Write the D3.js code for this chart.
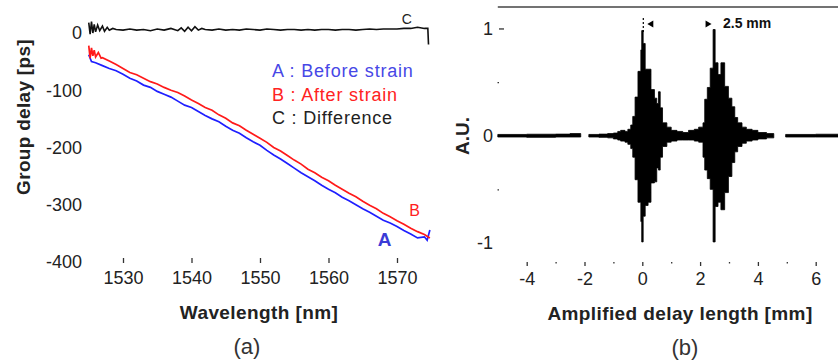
<!DOCTYPE html>
<html>
<head>
<meta charset="utf-8">
<script src="https://cdn.jsdelivr.net/npm/d3@7"></script>
<style>
  body { margin: 0; background: #fff; }
  text { font-family: "Liberation Sans", Arial, sans-serif; }
</style>
</head>
<body>
<svg id="chart" width="838" height="362"></svg>
<script>
// (a) group delay vs wavelength
const wlA = [1525, 1525.4, 1526, 1527, 1528, 1529, 1530, 1531, 1532, 1533, 1534, 1535, 1536, 1537, 1538, 1539,
  1540, 1541, 1542, 1543, 1544, 1545, 1546, 1547, 1548, 1549, 1550, 1551, 1552, 1553, 1554, 1555, 1556, 1557,
  1558, 1559, 1560, 1561, 1562, 1563, 1564, 1565, 1566, 1567, 1568, 1569, 1570, 1571, 1572, 1573, 1574, 1574.4, 1574.8];
const delayA = [-38, -50, -52, -57, -62, -66, -72, -79, -84, -91, -95, -102, -107, -112, -119, -126,
  -130, -137, -144, -150, -155, -163, -170, -175, -183, -190, -196, -205, -213, -220, -228, -236, -244, -251,
  -258, -266, -273, -279, -287, -293, -300, -307, -313, -320, -327, -332, -338, -345, -351, -358, -356, -362, -344];

const wlB = [1525, 1525.2, 1525.4, 1525.6, 1525.8, 1526, 1526.4, 1526.8, 1527, 1528, 1529, 1530, 1531, 1532, 1533,
  1534, 1535, 1536, 1537, 1538, 1539, 1540, 1541, 1542, 1543, 1544, 1545, 1546, 1547, 1548, 1549, 1550, 1551,
  1552, 1553, 1554, 1555, 1556, 1557, 1558, 1559, 1560, 1561, 1562, 1563, 1564, 1565, 1566, 1567, 1568, 1569,
  1570, 1571, 1572, 1573, 1574, 1574.8];
const delayB = [-22, -44, -26, -40, -30, -42, -34, -44, -43, -49, -55, -62, -69, -73, -79,
  -85, -89, -95, -100, -104, -110, -117, -123, -130, -135, -143, -149, -157, -162, -170, -177, -184, -191,
  -200, -206, -214, -222, -229, -238, -244, -252, -258, -266, -273, -280, -286, -294, -301, -307, -315, -321,
  -328, -334, -341, -347, -352, -358];

const wlC = [1525, 1525.2, 1525.4, 1525.6, 1525.8, 1526, 1526.3, 1526.6, 1527, 1527.3, 1527.7, 1528, 1528.5,
  1529, 1530, 1531, 1532, 1533, 1534, 1535, 1536, 1537, 1538, 1538.5, 1539, 1539.5, 1540, 1540.5, 1541, 1541.5,
  1542, 1543, 1544, 1545, 1546, 1547, 1548, 1549, 1550, 1551, 1552, 1553, 1554, 1555, 1556, 1557, 1558, 1559,
  1560, 1561, 1562, 1563, 1564, 1565, 1566, 1567, 1568, 1569, 1570, 1571, 1572, 1573, 1574, 1574.5, 1574.6];
const diffC = [18, -2, 20, 0, 15, 2, 14, 4, 12, 3, 10, 5, 8,
  6, 5, 7, 5, 6, 4, 7, 5, 8, 4, 9, 3, 10, 4, 11, 5, 8,
  6, 5, 7, 5, 6, 5, 7, 6, 5, 7, 6, 5, 6, 6, 5, 6, 5, 6,
  6, 5, 6, 6, 5, 6, 7, 6, 7, 7, 7, 8, 8, 10, 8, 8, -20];

const ticksA = [0, -100, -200, -300, -400];
const ticksWl = [1530, 1540, 1550, 1560, 1570];
const legendA = ['A : Before strain', 'B : After strain', 'C : Difference'];

// (b) interferogram envelope, null = gap in the trace
const pos = [-5, -4, -3, -2.5, -2.13, -2.12, -1.85, -1.5, -1.2, -1, -0.85, -0.75, -0.6, -0.5, -0.4, -0.33, -0.25,
  -0.15, -0.05, -0.02, 0.03, 0.1, 0.2, 0.3, 0.42, 0.5, 0.56, 0.62, 0.7, 0.85, 1, 1.2, 1.4, 1.6, 1.8, 1.95,
  2.1, 2.16, 2.25, 2.35, 2.45, 2.52, 2.62, 2.72, 2.85, 2.98, 3.1, 3.2, 3.3, 3.45, 3.6, 3.8, 4, 4.3, 4.55,
  4.56, 4.96, 6, 7];
const upper = [0.012, 0.014, 0.015, 0.02, 0.012, null, 0.012, 0.015, 0.02, 0.025, 0.04, 0.05, 0.04, 0.06, 0.1, 0.18, 0.36,
  0.6, 0.8, 0.98, 0.86, 0.62, 0.62, 0.43, 0.35, 0.3, 0.41, 0.26, 0.12, 0.08, 0.05, 0.04, 0.03, 0.05, 0.06, 0.08,
  0.12, 0.34, 0.45, 0.63, 0.99, 0.68, 0.57, 0.68, 0.46, 0.35, 0.27, 0.17, 0.12, 0.08, 0.06, 0.05, 0.03, 0.02, 0.015,
  null, 0.012, 0.014, 0.012];
const lower = [-0.012, -0.015, -0.012, -0.012, -0.012, null, -0.012, -0.015, -0.02, -0.03, -0.04, -0.05, -0.06, -0.08, -0.12, -0.2, -0.41,
  -0.62, -0.8, -0.99, -0.75, -0.65, -0.62, -0.44, -0.43, -0.3, -0.32, -0.2, -0.1, -0.06, -0.05, -0.04, -0.04, -0.04, -0.05, -0.06,
  -0.2, -0.32, -0.4, -0.5, -0.99, -0.66, -0.62, -0.69, -0.53, -0.38, -0.25, -0.15, -0.1, -0.07, -0.05, -0.04, -0.03, -0.02, -0.015,
  null, -0.012, -0.012, -0.012];

const ticksAU = [-1, 0, 1];
const ticksMm = [-4, -2, 0, 2, 4, 6];
const minorMm = [-3, -1, 1, 3, 5];
const peakSpacing = [0, 2.5];

const svg = d3.select('#chart');
svg.append('rect').attr('width', 838).attr('height', 362).attr('fill', '#fff');

// ---------- panel (a) ----------
const xA = d3.scaleLinear().domain([1525, 1575]).range([88.75, 431.25]);
const yA = d3.scaleLinear().domain([-400, 0]).range([262, 33]);

svg.append('g')
  .attr('transform', 'translate(88,0)')
  .call(d3.axisLeft(yA).tickValues(ticksA).tickSize(0).tickPadding(6).tickFormat((d) => String(d)));
svg.append('g')
  .attr('transform', 'translate(0,258)')
  .call(d3.axisBottom(xA).tickValues(ticksWl).tickSize(5).tickPadding(8).tickFormat((d) => String(d)));

const lineA = (xs, ys) => d3.line().x((d, i) => xA(xs[i])).y((d) => yA(d))(ys);

svg.append('path').attr('d', lineA(wlA, delayA))
  .attr('fill', 'none').attr('stroke', '#1f1fff').attr('stroke-width', 1.7);
svg.append('path').attr('d', lineA(wlB, delayB))
  .attr('fill', 'none').attr('stroke', '#ff1a1a').attr('stroke-width', 1.7);
svg.append('path').attr('d', lineA(wlC, diffC))
  .attr('fill', 'none').attr('stroke', '#111').attr('stroke-width', 1.6);

// legend
const legColors = ['#4747e6', '#ff2222', '#222'];
svg.append('g').selectAll('text')
  .data(legendA)
  .join('text')
  .attr('x', 272)
  .attr('y', (d, i) => 77 + i * 23.5)
  .attr('fill', (d, i) => legColors[i])
  .style('font-size', '18px')
  .style('letter-spacing', '0.8px')
  .text((d) => d);

// curve labels
svg.append('text').attr('x', xA(1567.2)).attr('y', yA(-372)).attr('fill', '#3b3bd6')
  .style('font-size', '19px').style('font-weight', 'bold').text('A');
svg.append('text').attr('x', xA(1571.8)).attr('y', yA(-320)).attr('fill', '#ff2020')
  .style('font-size', '16px').text('B');
svg.append('text').attr('x', xA(1570.7)).attr('y', yA(16)).attr('fill', '#222')
  .style('font-size', '14px').text('C');

svg.append('text')
  .attr('transform', 'translate(30,117) rotate(-90)')
  .attr('text-anchor', 'middle')
  .style('font-size', '19px').style('font-weight', 'bold').attr('fill', '#222')
  .style('letter-spacing', '0.3px')
  .text('Group delay [ps]');
svg.append('text')
  .attr('x', 259).attr('y', 319)
  .attr('text-anchor', 'middle')
  .style('font-size', '19px').style('font-weight', 'bold').attr('fill', '#222')
  .style('letter-spacing', '0.4px')
  .text('Wavelength [nm]');
svg.append('text')
  .attr('x', 247).attr('y', 354)
  .attr('text-anchor', 'middle')
  .style('font-size', '22px').attr('fill', '#333')
  .text('(a)');

// ---------- panel (b) ----------
const xB = d3.scaleLinear().domain([-5, 7]).range([497.8, 844.6]);
const yB = d3.scaleLinear().domain([-1, 1.2]).range([243, 7]);

svg.append('line')
  .attr('x1', xB(-5)).attr('x2', 838)
  .attr('y1', yB(1.2)).attr('y2', yB(1.2))
  .attr('stroke', '#444').attr('stroke-width', 1.6);

// labels only, then the visible tick marks
svg.append('g')
  .attr('transform', 'translate(504,0)')
  .call(d3.axisLeft(yB).tickValues(ticksAU).tickSize(5).tickPadding(6).tickFormat((d) => String(d)))
  .selectAll('.tick line').filter((d) => d !== 1).remove();
svg.append('g')
  .attr('transform', 'translate(499,0)')
  .call(d3.axisLeft(yB).tickValues([-0.5, 0.5]).tickSize(1.5).tickFormat(''));

svg.append('g')
  .attr('transform', 'translate(0,262)')
  .call(d3.axisBottom(xB).tickValues(ticksMm).tickSize(4).tickPadding(6).tickFormat((d) => String(d)));
svg.append('g')
  .attr('transform', 'translate(0,262)')
  .call(d3.axisBottom(xB).tickValues(minorMm).tickSize(1.5).tickFormat(''));

const burst = d3.area()
  .defined((d, i) => upper[i] !== null)
  .x((d) => xB(d))
  .y0((d, i) => yB(lower[i]))
  .y1((d, i) => yB(upper[i]))
  .curve(d3.curveStepAfter);
svg.append('path').attr('d', burst(pos)).attr('fill', '#000').attr('stroke', '#000').attr('stroke-width', 0.8);

// peak spacing marker
svg.append('line')
  .attr('x1', xB(peakSpacing[0]) + 1).attr('x2', xB(peakSpacing[0]) + 1)
  .attr('y1', 18).attr('y2', 32)
  .attr('stroke', '#000').attr('stroke-width', 1.2).attr('stroke-dasharray', '2,2');
svg.append('path')
  .attr('d', `M${xB(peakSpacing[0]) + 5},24 l6,-3.5 l0,7 z`).attr('fill', '#000');
svg.append('path')
  .attr('d', `M${xB(peakSpacing[1]) - 3},24 l-6,-3.5 l0,7 z`).attr('fill', '#000');
svg.append('text')
  .attr('x', 723).attr('y', 28)
  .style('font-size', '14px').style('font-weight', 'bold').attr('fill', '#111')
  .text(`${peakSpacing[1] - peakSpacing[0]} mm`);

svg.append('text')
  .attr('transform', 'translate(469,136) rotate(-90)')
  .attr('text-anchor', 'middle')
  .style('font-size', '19px').style('font-weight', 'bold').attr('fill', '#222')
  .text('A.U.');
svg.append('text')
  .attr('x', 680).attr('y', 320)
  .attr('text-anchor', 'middle')
  .style('font-size', '19px').style('font-weight', 'bold').attr('fill', '#222')
  .style('letter-spacing', '0.4px')
  .text('Amplified delay length [mm]');
svg.append('text')
  .attr('x', 685).attr('y', 355)
  .attr('text-anchor', 'middle')
  .style('font-size', '22px').attr('fill', '#333')
  .text('(b)');

// shared axis styling
svg.selectAll('.domain').remove();
svg.selectAll('.tick text').style('font-size', '18px').attr('fill', '#222')
  .style('font-family', '"Liberation Sans", Arial, sans-serif');
svg.selectAll('.tick line').attr('stroke', '#333').attr('stroke-width', 1.3);
</script>
</body>
</html>
